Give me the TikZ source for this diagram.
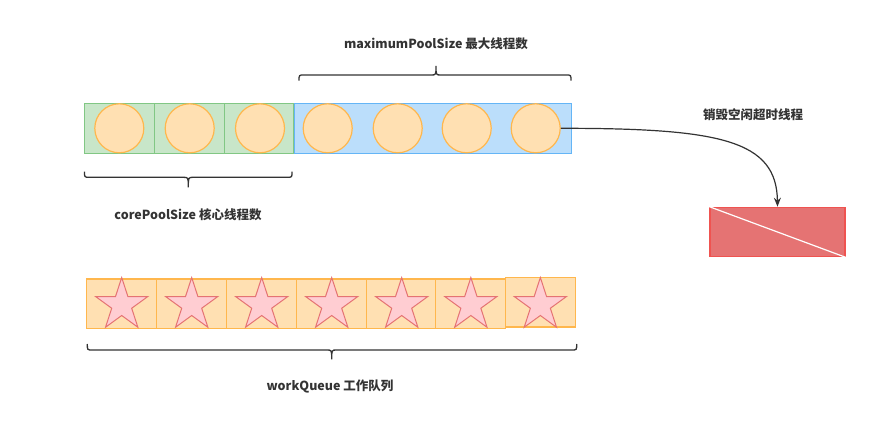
\documentclass[tikz,border=0pt]{standalone}
\usepackage{fontspec}
\setmainfont{Noto Sans CJK SC}
\usetikzlibrary{shapes.geometric,arrows.meta}
\definecolor{grfill}{HTML}{C8E6C9}
\definecolor{grline}{HTML}{81C784}
\definecolor{blfill}{HTML}{BBDEFB}
\definecolor{blline}{HTML}{64B5F6}
\definecolor{orfill}{HTML}{FFE0B2}
\definecolor{orline}{HTML}{FFB74D}
\definecolor{stfill}{HTML}{FFCDD2}
\definecolor{stline}{HTML}{E57373}
\definecolor{rdfill}{HTML}{E57373}
\definecolor{rdline}{HTML}{EF5350}
\definecolor{txt}{HTML}{333333}
\begin{document}
\begin{tikzpicture}[x=1pt,y=-1pt,
  greencell/.style={draw=grline,fill=grfill,line width=1.2pt,minimum width=69.7pt,minimum height=50pt,inner sep=0pt,outer sep=0pt},
  bluecell/.style={draw=blline,fill=blfill,line width=1.2pt,minimum width=277.7pt,minimum height=50pt,inner sep=0pt,outer sep=0pt},
  thread/.style={circle,draw=orline,fill=orfill,line width=1.2pt,minimum size=49pt,inner sep=0pt},
  qcell/.style={draw=orline,fill=orfill,line width=1.2pt,minimum width=70pt,minimum height=49.3pt,inner sep=0pt,outer sep=0pt},
  task/.style={star,star points=5,star point ratio=2.618,draw=stline,fill=stfill,line width=1pt,minimum size=55pt,inner sep=0pt},
  brace/.style={draw=txt,line width=1.3pt},
  label/.style={text=txt,font=\bfseries\fontsize{12.5}{14}\selectfont,inner sep=0pt}
]
\useasboundingbox (0,0) rectangle (890,427);
% top row
\node[bluecell] (blue) at (432.85,128.3) {};
\node[greencell] (g1) at (119.65,128.3) {};
\node[greencell] (g2) at (189.5,128.3) {};
\node[greencell] (g3) at (259.0,128.3) {};
\foreach \i/\x in {1/119.3,2/189.7,3/260,4/327.7,5/397.7,6/466.7,7/535.7}
  \node[thread] (c\i) at (\x,128.3) {};
% braces
\draw[brace] (299,80.7) .. controls (299,75) .. (304,75) -- (431,75) .. controls (436,75) .. (436,66)
  .. controls (436,75) .. (441,75) -- (566,75) .. controls (571,75) .. (571,80.7);
\draw[brace] (84.5,171.7) .. controls (84.5,177.3) .. (89.5,177.3) -- (183.3,177.3) .. controls (188.3,177.3) .. (188.3,187.3)
  .. controls (188.3,177.3) .. (193.3,177.3) -- (287,177.3) .. controls (292,177.3) .. (292,171.7);
\node[label] (maxl) at (436,44) {maximumPoolSize 最大线程数};
\node[label] (corel) at (188,215) {corePoolSize 核心线程数};
% destroy
\node[draw=rdline,fill=rdfill,line width=1.2pt,minimum width=135pt,minimum height=49.4pt,inner sep=0pt] (dead) at (777.5,232) {};
\draw[white,line width=1.2pt] (dead.north west) -- (dead.south east);
\node[label] (destl) at (753,115) {销毁空闲超时线程};
\draw[txt,line width=1.2pt,-{Stealth[length=9pt,width=7pt]}] (c7.east) .. controls (720,128.3) and (776.7,140) .. (dead.north);
% queue
\foreach \i/\x in {1/121.7,2/191.7,3/261.7,4/331.7,5/401.7,6/470.85}
  \node[qcell] (q\i) at (\x,303.6) {};
\node[qcell] (q7) at (540.35,302.3) {};
\foreach \i/\x in {1/121.7,2/191.7,3/261.7,4/331.7,5/401.7,6/470.85,7/540.35}
  \node[task] (s\i) at (\x,305) {};
\draw[brace] (87.3,344) .. controls (87.3,350) .. (92.3,350) -- (326.7,350) .. controls (331.7,350) .. (331.7,359.3)
  .. controls (331.7,350) .. (336.7,350) -- (571.7,350) .. controls (576.7,350) .. (576.7,344);
\node[label] (ql) at (330,386.7) {workQueue 工作队列};
\end{tikzpicture}
\end{document}
